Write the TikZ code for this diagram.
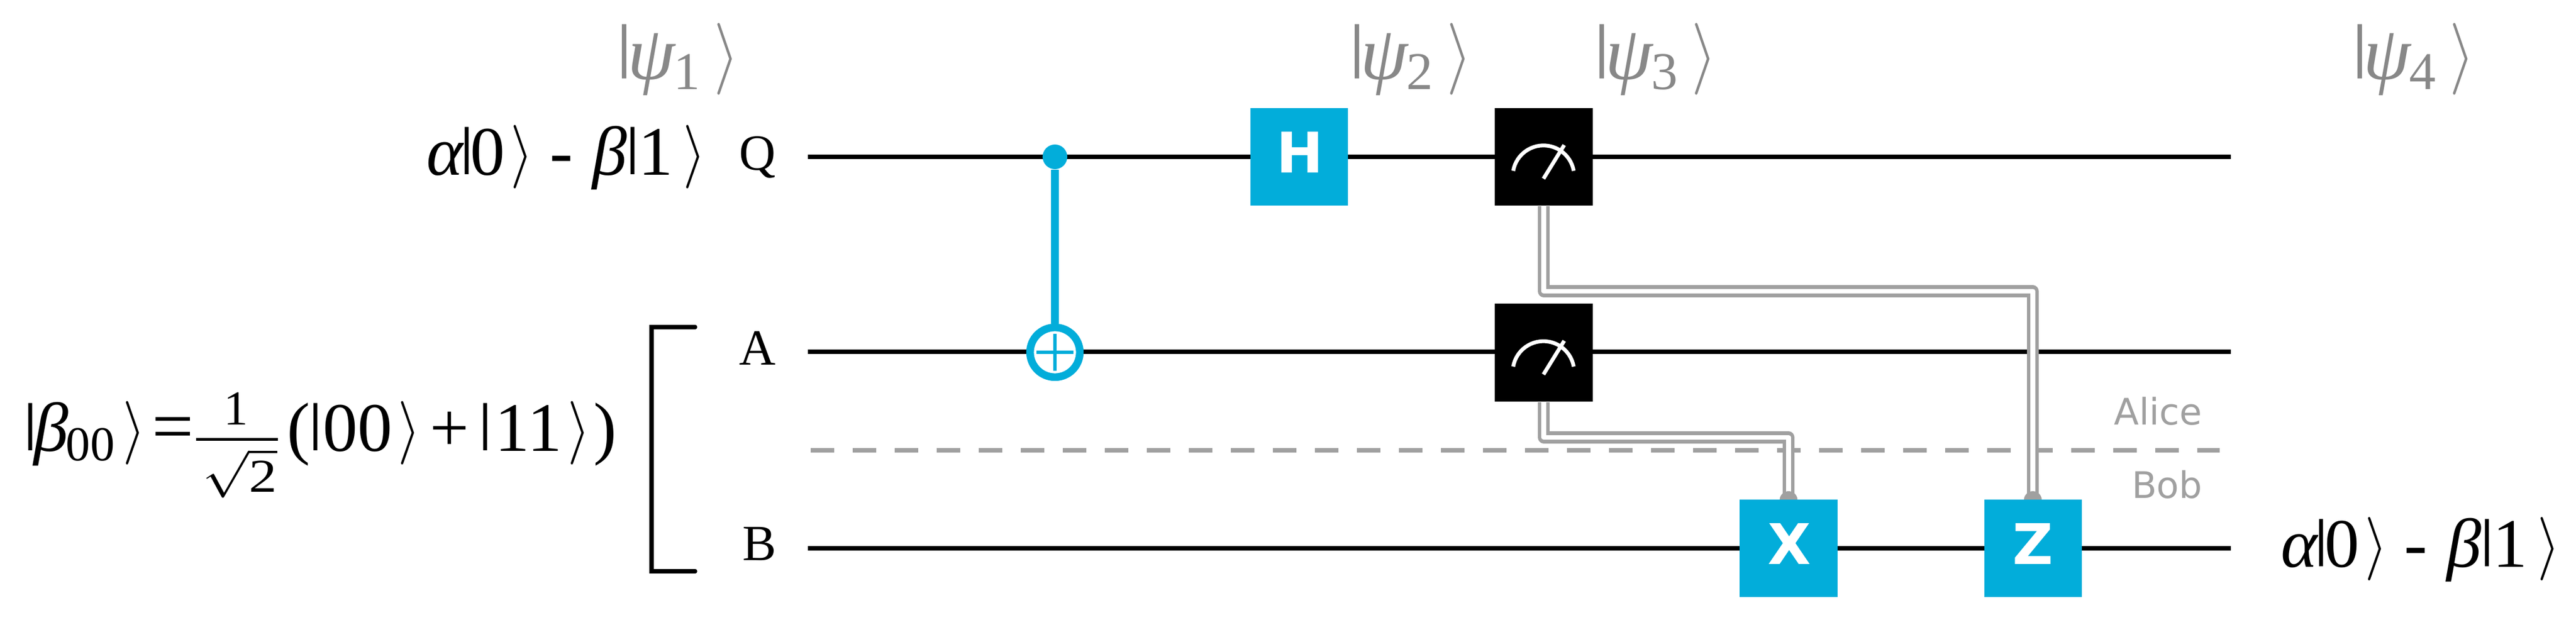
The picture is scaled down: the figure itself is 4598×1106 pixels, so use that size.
\documentclass[tikz,border=0pt]{standalone}
\usepackage{fontspec}
\usepackage{graphicx}
\setmainfont{Liberation Serif}
\newfontfamily\gatefont{DejaVu Sans}
\definecolor{qblue}{HTML}{02ADDA}
\definecolor{clgray}{HTML}{A0A0A0}
\definecolor{psigray}{HTML}{888888}
\newcommand\qbar[1]{{\fontsize{#1}{#1}\selectfont\kern-.05em\raisebox{.217em}{\scalebox{1.5}[1]{|}}\kern-.05em}}
\newcommand\qrng[2]{\raisebox{1pt}{\scalebox{#1}[#2]{$\rangle$}}}
\newcommand\psistate[1]{\qbar{26.6}\kern-1.2pt{\fontsize{34}{34}\selectfont\itshape ψ}\kern-0.5pt\raisebox{-4.5pt}{\fontsize{23.7}{24}\selectfont #1}\kern6pt\qrng{2.9}{3.2}}
\newcommand\amp{{\fontsize{31}{31}\selectfont\itshape α}\kern-0.8pt\qbar{23.2}\kern-0.8pt{\fontsize{31}{31}\selectfont 0}\kern2.5pt\qrng{2.6}{2.83}\kern7.5pt{\fontsize{31}{31}\selectfont -}\kern8.75pt{\fontsize{31}{31}\selectfont\itshape β}\kern0.2pt\qbar{23.2}\kern0.2pt{\fontsize{31}{31}\selectfont 1}\kern4.5pt\qrng{2.6}{2.83}}
\tikzset{
  wire/.style={draw=black,line width=2pt},
  sep/.style={draw=clgray,line width=2pt,dash pattern=on 10.5pt off 8.25pt},
  classical/.style={draw=clgray,line width=1.6pt,double=white,double distance=2.1pt,line join=round},
  gatebox/.style={rectangle,fill=qblue,inner sep=0pt,minimum width=43.6pt,minimum height=43.6pt},
  meterbox/.style={rectangle,fill=black,inner sep=0pt,minimum width=43.6pt,minimum height=43.6pt},
  gatelabel/.style={text=white,inner sep=0pt,anchor=base,font={\gatefont\bfseries\fontsize{25}{25}\selectfont}},
  needle/.style={draw=white,line width=1.7pt},
  state/.style={text=psigray,inner sep=0pt,anchor=base west},
  formula/.style={text=black,inner sep=0pt,anchor=base west},
  qlabel/.style={text=black,inner sep=0pt,anchor=base west,font={\fontsize{22.6}{23}\selectfont}},
  party/.style={text=clgray,inner sep=0pt,anchor=base east,font={\gatefont\fontsize{16.3}{17}\selectfont}},
  bracket/.style={draw=black,line width=1.8pt,line cap=round},
  enddot/.style={circle,fill=clgray,inner sep=0pt,minimum size=8pt},
}
\begin{document}
\begin{tikzpicture}[x=0.25pt,y=-0.25pt]
\useasboundingbox (0,0) rectangle (4598,1106);
% wire ends
\coordinate (Qs) at (1442,280); \coordinate (Qe) at (3982,280);
\coordinate (As) at (1442,628); \coordinate (Ae) at (3982,628);
\coordinate (Bs) at (1442,979); \coordinate (Be) at (3982,979);
\coordinate (Ss) at (1447,804); \coordinate (Se) at (3962,804);
\draw[wire] (Qs) -- (Qe);
\draw[wire] (As) -- (Ae);
\draw[wire] (Bs) -- (Be);
\draw[sep] (Ss) -- (Se);
% gates (positions)
\coordinate (mQc) at (2755.5,280);
\coordinate (mAc) at (2755.5,629.5);
\coordinate (Xc) at (3192.5,979);
\coordinate (Zc) at (3629,979);
\coordinate (cl1) at (2755.5,520); \coordinate (cl2) at (3628.5,520);
\coordinate (cl3) at (2755.5,781); \coordinate (cl4) at (3192.5,781);
\coordinate (cl5) at (3628.5,893); \coordinate (cl6) at (3192.5,893);
\node[meterbox] (mQ) at (mQc) {};
\node[meterbox] (mA) at (mAc) {};
\draw[classical] (mQ.south) -- (cl1) -- (cl2) -- (cl5);
\draw[classical] (mA.south) -- (cl3) -- (cl4) -- (cl6);
\node[enddot] (dotX) at (cl6) {};
\node[enddot] (dotZ) at (cl5) {};
\node[gatebox] (H) at (2319,280) {};
\node[gatebox] (X) at (Xc) {};
\node[gatebox] (Z) at (Zc) {};
\node[gatelabel] (Hl) at (2320,308) {H};
\node[gatelabel] (Xl) at (3194,1007) {X};
\node[gatelabel] (Zl) at (3629,1007) {Z};
% meter glyphs
\draw[needle] (2701,305) arc[start angle=170,end angle=10,radius=13.7pt];
\draw[needle] (2755,319) -- (2792,259);
\draw[needle] (2701,654.5) arc[start angle=170,end angle=10,radius=13.7pt];
\draw[needle] (2755,668.5) -- (2792,608.5);
% CNOT
\node[circle,fill=qblue,inner sep=0pt,minimum size=11pt] (ctl) at (1883,280) {};
\node[circle,draw=qblue,line width=3.4pt,fill=white,inner sep=0pt,minimum size=22.2pt] (tgt) at (1883,629) {};
\draw[draw=qblue,line width=3.4pt] (ctl) -- (tgt);
\coordinate (pw) at (1850,629); \coordinate (pe) at (1916,629);
\coordinate (pn) at (1883,596); \coordinate (ps) at (1883,662);
\draw[draw=qblue,line width=1.5pt] (pw) -- (pe);
\draw[draw=qblue,line width=1.5pt] (pn) -- (ps);
% states
\node[state] (psi1) at (1103,141) {\psistate{1}};
\node[state] (psi2) at (2411,141) {\psistate{2}};
\node[state] (psi3) at (2848,141) {\psistate{3}};
\node[state] (psi4) at (4201,141) {\psistate{4}};
% amplitudes
\node[formula] (inQ) at (761,312) {\amp};
\node[formula] (outB) at (4071,1012) {\amp};
% wire labels
\node[qlabel] (lQ) at (1319,303) {Q};
\node[qlabel] (lA) at (1319,651) {A};
\node[qlabel] (lB) at (1325,1000) {B};
% parties
\node[party] (alice) at (3931,758) {Alice};
\node[party] (bob) at (3932,889) {Bob};
% bell
\coordinate (b1) at (1241,584); \coordinate (b2) at (1163,584);
\coordinate (b3) at (1163,1020); \coordinate (b4) at (1241,1020);
\draw[bracket] (b1) -- (b2) -- (b3) -- (b4);
\node[formula] (bellL) at (44,805) {\qbar{23.2}\kern-0.8pt{\fontsize{31}{31}\selectfont\itshape β}\kern-1pt\raisebox{-4.25pt}{\fontsize{21.8}{22}\selectfont 00}\kern3.5pt\qrng{2.6}{2.83}\kern3pt{\fontsize{33}{33}\selectfont =}};
\node[inner sep=0pt,anchor=base] (fnum) at (421,758) {\fontsize{21.8}{22}\selectfont 1};
\node[inner sep=0pt] (fbar) at (423,784) {\rule{36.5pt}{1.25pt}};
\node[inner sep=0pt,anchor=north] (fden) at (428,801) {\scalebox{2.5}[2.1]{$\sqrt{\mbox{2}}$}};
\node[formula] (bellR) at (512,805) {{\fontsize{31}{31}\selectfont (}\qbar{23.2}\kern1pt{\fontsize{31}{31}\selectfont 00}\kern2.5pt\qrng{2.6}{2.83}\kern4pt{\fontsize{31}{31}\selectfont +}\kern5pt\qbar{23.2}\kern2pt{\fontsize{31}{31}\selectfont 11}\kern2.5pt\qrng{2.6}{2.83}\kern1.5pt{\fontsize{31}{31}\selectfont )}};
\end{tikzpicture}
\end{document}
